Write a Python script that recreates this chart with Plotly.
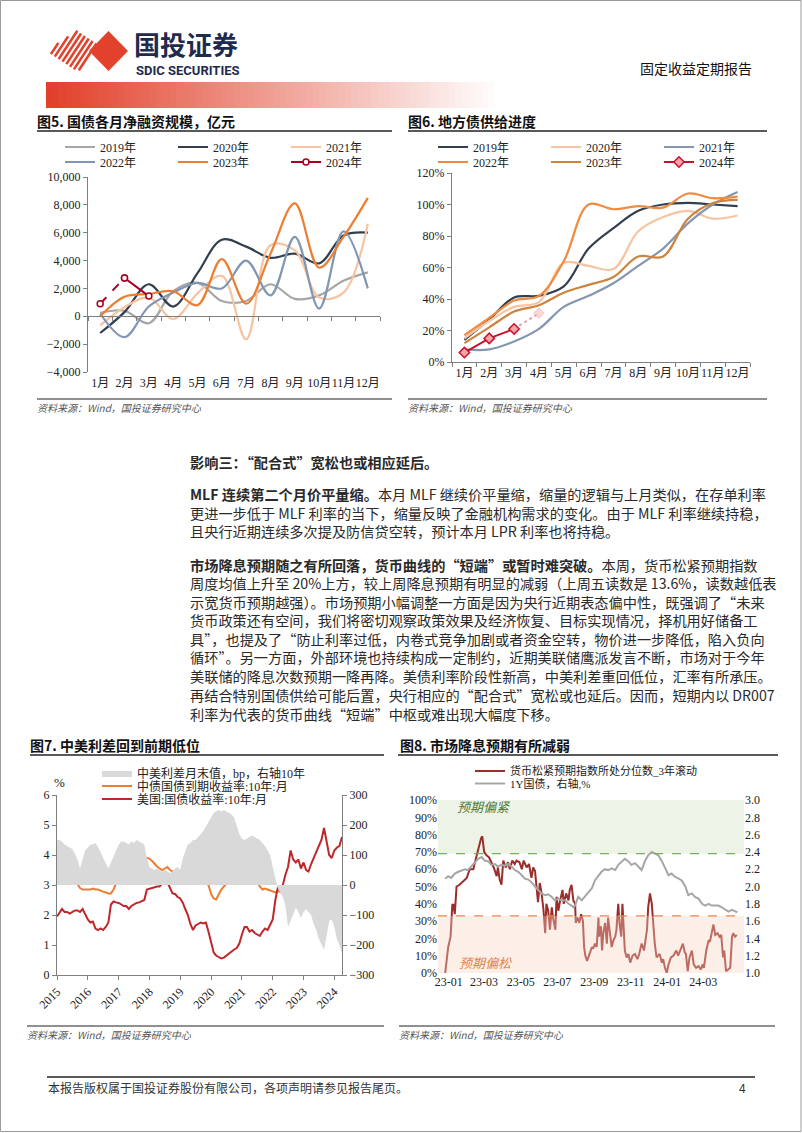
import numpy as np
import pandas as pd
import plotly.graph_objects as go

W, H = 802, 1133
SERIF = "Liberation Serif, Noto Sans CJK SC, serif"
SANS = "Noto Sans CJK SC, sans-serif"


def px(x):
    return x / W


def py(y):
    return 1 - y / H


#------------------------------------------------ data ------------------------------------------------#
months = ['1月', '2月', '3月', '4月', '5月', '6月', '7月', '8月', '9月', '10月', '11月', '12月']

# fig5: monthly net financing of treasury bonds, 100m yuan
nf_2019 = [250, 400, -500, 1800, 2400, 1100, 1100, 2300, 1250, 1500, 2550, 3150]
nf_2020 = [-1200, 300, 2300, 700, 3100, 5500, 5000, 4200, 4500, 3800, 5800, 6000]
nf_2021 = [-650, 650, 1350, -200, 1650, 2900, -1650, 5100, 4750, 1350, 1700, 6650]
nf_2022 = [200, -1500, 700, 1700, 2400, 2000, 4000, 1500, 5700, 550, 6100, 2000]
nf_2023 = [0, 1400, 1600, 1800, 800, 4100, 900, 4500, 8100, 3500, 5700, 8500]
nf_2024 = [900, 2750, 1450]

# fig6: local government bond issuance progress, %
lg_2019 = [14, 27, 41, 42, 48, 72, 85, 96, 100, 101, 100, 99]
lg_2020 = [15, 26, 35, 38, 63, 61, 59, 83, 92, 96, 91, 93]
lg_2021 = [8, 8, 13, 21, 35, 42, 50, 61, 72, 88, 100, 108]
lg_2022 = [17, 28, 39, 42, 64, 100, 97, 99, 98, 107, 104, 105]
lg_2023 = [12, 22, 32, 36, 44, 49, 54, 67, 67, 91, 101, 103]
lg_2024 = [6, 15, 21]
lg_2024_est = [21, 31]          # Mar -> Apr (estimate)

# fig7: CN-US 10Y, monthly
ir_dates = pd.date_range('2015-01-01', '2024-04-01', freq='MS')
cn10y = [3.45, 3.55, 3.60, 3.55, 3.45, 3.40, 3.30, 3.15, 3.00, 2.90, 2.85, 2.85,
         2.85, 2.85, 2.88, 2.85, 2.85, 2.80, 2.78, 2.75, 2.72, 2.72, 2.85, 3.05,
         3.25, 3.35, 3.40, 3.45, 3.55, 3.58, 3.60, 3.62, 3.65, 3.75, 3.85, 3.90,
         3.88, 3.80, 3.70, 3.62, 3.55, 3.50, 3.55, 3.60, 3.50, 3.45, 3.25, 3.18,
         3.15, 3.30, 3.40, 3.35, 3.30, 3.20, 3.10, 3.15, 3.20, 3.10, 3.05, 3.00,
         2.70, 2.55, 2.52, 2.70, 2.85, 2.95, 3.05, 3.10, 3.15, 3.20, 3.25, 3.22,
         3.22, 3.22, 3.20, 3.05, 3.08, 3.10, 3.10, 2.95, 2.85, 2.88, 2.85, 2.82,
         2.78, 2.75, 2.80, 2.78, 2.75, 2.80, 2.75, 2.68, 2.72, 2.85, 2.90, 2.92,
         2.90, 2.90, 2.88, 2.85, 2.78, 2.72, 2.68, 2.62, 2.70, 2.72, 2.65, 2.55,
         2.45, 2.40, 2.32, 2.25]
us10y = [1.95, 2.10, 2.20, 2.10, 2.10, 2.05, 2.10, 2.15, 2.15, 2.10, 2.20, 2.05,
         1.85, 1.75, 1.78, 1.55, 1.50, 1.55, 1.50, 1.60, 1.75, 2.35, 2.45, 2.42,
         2.40, 2.35, 2.30, 2.30, 2.20, 2.30, 2.35, 2.40, 2.42, 2.45, 2.50, 2.85,
         2.88, 2.90, 2.92, 2.95, 2.95, 3.05, 3.15, 3.10, 2.90, 2.72, 2.70, 2.60,
         2.55, 2.40, 2.20, 2.00, 1.70, 1.50, 1.65, 1.70, 1.75, 1.72, 1.75, 1.45,
         1.10, 0.75, 0.65, 0.60, 0.55, 0.58, 0.65, 0.70, 0.80, 0.85, 0.90, 1.05,
         1.35, 1.60, 1.60, 1.45, 1.50, 1.40, 1.35, 1.30, 1.45, 1.55, 1.50, 1.65,
         1.85, 2.50, 2.90, 2.85, 3.00, 3.35, 3.60, 4.15, 3.85, 3.75, 3.85, 3.55,
         3.75, 3.50, 3.45, 3.70, 3.90, 4.05, 4.25, 4.50, 4.90, 4.40, 4.00, 3.90,
         4.15, 4.25, 4.30, 4.60]
spread_bp = [150, 150, 145, 135, 130, 125, 120, 105, 85, 55, 90, 115,
             125, 135, 135, 140, 125, 110, 90, 70, 55, 75, 95, 120,
             135, 145, 145, 140, 135, 145, 140, 150, 145, 140, 135, 90,
             60, 55, 50, 55, 50, 45, 50, 45, 40, 45, 55, 60,
             50, 90, 115, 135, 140, 150, 150, 160, 170, 180, 195, 210,
             225, 240, 245, 250, 245, 250, 245, 240, 235, 225, 200, 170,
             155, 150, 155, 160, 165, 160, 155, 150, 140, 130, 115, 100,
             60, 25, -10, -25, -40, -70, -140, -120, -100, -75, -90, -110,
             -90, -80, -90, -100, -130, -150, -180, -200, -215, -170, -120, -115,
             -140, -180, -200, -230]

# fig8: easing-expectation index percentile & 1Y CGB (days from 2023-01-01)
exp_days = [-6, -1, 3, 4, 6, 7, 8, 10, 13, 18, 24, 30, 35, 41, 43, 47, 51, 54, 56, 59,
            63, 67, 71, 75, 80, 82, 85, 88, 91, 95, 99, 102, 106, 110, 113, 118, 122, 125, 130, 134,
            138, 141, 144, 147, 149, 152, 155, 158, 161, 163, 166, 169, 172, 174, 178, 180, 183, 186, 190, 192,
            196, 200, 202, 205, 208, 211, 212, 215, 218, 221, 224, 226, 228, 231, 235, 239, 241, 244, 247, 250,
            251, 254, 256, 258, 261, 264, 266, 268, 272, 275, 278, 280, 283, 285, 288, 290, 292, 294, 297, 300,
            303, 307, 311, 315, 318, 322, 326, 331, 333, 336, 339, 342, 344, 347, 352, 356, 358, 361, 364, 367,
            371, 375, 380, 383, 387, 391, 394, 396, 399, 402, 406, 409, 413, 417, 421, 424, 426, 430, 434, 436,
            439, 442, 445, 449, 452, 455, 458, 460, 463, 467, 470, 473, 475, 478, 481]
exp_pct = [0, 15, 21, 27, 40, 36, 40, 34, 50, 51, 53, 55, 60, 60, 63, 69, 74, 78, 79, 70,
           68, 67, 64, 61, 56, 61, 54, 51, 65, 61, 64, 60, 65, 63, 65, 64, 60, 65, 61, 63,
           55, 61, 59, 48, 41, 52, 46, 37, 23, 40, 36, 25, 38, 32, 25, 44, 36, 42, 48, 40,
           46, 42, 48, 51, 42, 40, 29, 32, 29, 34, 30, 15, 10, 7, 11, 15, 14, 17, 15, 32,
           21, 27, 13, 23, 29, 17, 32, 25, 15, 19, 21, 25, 40, 29, 21, 40, 29, 13, 9, 11,
           6, 10, 11, 8, 11, 17, 13, 25, 38, 46, 40, 25, 17, 9, 11, 6, 8, 3, 0, 5,
           9, 10, 13, 10, 13, 17, 12, 11, 1, 9, 13, 5, 3, 4, 2, 5, 3, 13, 19, 18,
           23, 28, 22, 23, 21, 22, 9, 13, 1, 2, 3, 21, 23, 21, 22]
y1_days = [-6, -1, 4, 10, 16, 21, 27, 32, 38, 43, 49, 55, 60, 66, 71, 77, 82, 88, 94, 99,
           105, 110, 116, 122, 127, 133, 138, 144, 149, 155, 161, 166, 172, 177, 183, 188, 194, 200, 205, 208,
           211, 216, 222, 227, 233, 239, 244, 250, 255, 261, 266, 272, 278, 283, 289, 294, 300, 305, 311, 317,
           322, 328, 333, 339, 344, 350, 356, 361, 367, 372, 378, 384, 389, 395, 400, 406, 411, 417, 423, 428,
           434, 439, 445, 450, 456, 462, 467, 473, 478, 482]
y1_yield = [2.09, 2.12, 2.10, 2.15, 2.17, 2.18, 2.20, 2.19, 2.24, 2.27, 2.32, 2.34, 2.30, 2.29, 2.25, 2.26, 2.23, 2.25, 2.24, 2.26,
            2.23, 2.19, 2.17, 2.13, 2.09, 2.08, 2.05, 2.00, 1.96, 1.92, 1.90, 1.91, 1.88, 1.84, 1.86, 1.84, 1.84, 1.80, 1.78, 1.76,
            1.78, 1.88, 1.84, 1.88, 1.92, 1.98, 2.07, 2.13, 2.17, 2.20, 2.19, 2.21, 2.19, 2.25, 2.29, 2.32, 2.29, 2.25, 2.27, 2.23,
            2.19, 2.30, 2.36, 2.40, 2.38, 2.36, 2.29, 2.21, 2.13, 2.15, 2.11, 2.09, 2.07, 2.00, 1.90, 1.92, 1.88, 1.86, 1.80, 1.78,
            1.80, 1.78, 1.78, 1.78, 1.76, 1.73, 1.71, 1.73, 1.71, 1.70]
tight_line, loose_line = 69, 33

base_day = pd.Timestamp('2023-01-01')
exp_dates = base_day + pd.to_timedelta(exp_days, unit='D')
y1_dates = base_day + pd.to_timedelta(y1_days, unit='D')

#------------------------------------------------ traces ------------------------------------------------#
fig = go.Figure()

# fig5
for name, vals, col, lg in [('2019年', nf_2019, '#A6A6A6', 'legend'), ('2020年', nf_2020, '#333F50', 'legend'),
                            ('2021年', nf_2021, '#F7C4A2', 'legend'), ('2022年', nf_2022, '#8096B2', 'legend2'),
                            ('2023年', nf_2023, '#ED7D31', 'legend2')]:
    fig.add_trace(go.Scatter(x=months, y=vals, name=name, mode='lines', legend=lg,
                             line=dict(color=col, width=2.2, shape='spline', smoothing=1),
                             xaxis='x', yaxis='y'))
mk24 = dict(symbol='circle', size=6, color='white', line=dict(color='#A50021', width=1.5))
fig.add_trace(go.Scatter(x=months[:2], y=nf_2024[:2], mode='lines+markers', showlegend=False,
                         line=dict(color='#A50021', width=2, dash='dash'), marker=mk24, xaxis='x', yaxis='y'))
fig.add_trace(go.Scatter(x=months[1:3], y=nf_2024[1:3], name='2024年', mode='lines+markers', legend='legend2',
                         line=dict(color='#A50021', width=2), marker=mk24, xaxis='x', yaxis='y'))

# fig6
for name, vals, col, lg in [('2019年', lg_2019, '#333F50', 'legend3'), ('2020年', lg_2020, '#F7C4A2', 'legend3'),
                            ('2021年', lg_2021, '#8497B0', 'legend3'), ('2022年', lg_2022, '#F08A3E', 'legend4'),
                            ('2023年', lg_2023, '#CC8440', 'legend4')]:
    fig.add_trace(go.Scatter(x=months, y=vals, name=name, mode='lines', legend=lg,
                             line=dict(color=col, width=2.2, shape='spline', smoothing=1),
                             xaxis='x2', yaxis='y2'))
fig.add_trace(go.Scatter(x=months[2:4], y=lg_2024_est, mode='lines+markers', showlegend=False,
                         line=dict(color='#E9A0A0', width=2, dash='dot'),
                         marker=dict(symbol='diamond', size=[0, 8], color='#F6CACA', line=dict(color='#F0B0B0', width=1)),
                         xaxis='x2', yaxis='y2'))
fig.add_trace(go.Scatter(x=months[:3], y=lg_2024, name='2024年', mode='lines+markers', legend='legend4',
                         line=dict(color='#C8102E', width=2),
                         marker=dict(symbol='diamond', size=8, color='#F3A6A6', line=dict(color='#C8102E', width=1.5)),
                         xaxis='x2', yaxis='y2'))

# fig7
fig.add_trace(go.Scatter(x=ir_dates, y=spread_bp, name='中美利差月末值，bp，右轴10年', mode='lines', fill='tozeroy',
                         fillcolor='#D9D9D9', line=dict(width=0, color='#D9D9D9'), legend='legend5',
                         xaxis='x3', yaxis='y4'))
fig.add_trace(go.Scatter(x=ir_dates, y=cn10y, name='中债国债到期收益率:10年:月', mode='lines', legend='legend6',
                         line=dict(color='#ED7D31', width=2), xaxis='x3', yaxis='y3'))
fig.add_trace(go.Scatter(x=ir_dates, y=us10y, name='美国:国债收益率:10年:月', mode='lines', legend='legend7',
                         line=dict(color='#C0272D', width=2), xaxis='x3', yaxis='y3'))

# fig8
fig.add_trace(go.Scatter(x=y1_dates, y=y1_yield, name='1Y国债，右轴,%', mode='lines', legend='legend9',
                         line=dict(color='#A6A6A6', width=2), xaxis='x4', yaxis='y6'))
fig.add_trace(go.Scatter(x=exp_dates, y=exp_pct, name='货币松紧预期指数所处分位数_3年滚动', mode='lines', legend='legend8',
                         line=dict(color='#9B2D2A', width=2), xaxis='x4', yaxis='y5'))

#------------------------------------------------ layout ------------------------------------------------#
AX = '#7F7F7F'
tf = dict(family=SERIF, size=12, color='#222')


def leg(x, y, ew=68, size=12):
    d = dict(x=px(x), y=py(y), xanchor='left', yanchor='middle', orientation='h',
             bgcolor='rgba(0,0,0,0)', borderwidth=0, font=dict(family=SERIF, size=size, color='#222'),
             itemwidth=30, tracegroupgap=0, itemclick=False, itemdoubleclick=False)
    if ew:
        d.update(entrywidth=ew, entrywidthmode='pixels')
    return d


fig.update_layout(
    width=W, height=H, margin=dict(l=0, r=0, t=0, b=0, pad=0, autoexpand=False),
    paper_bgcolor='white', plot_bgcolor='rgba(0,0,0,0)',
    font=dict(family=SERIF, size=12, color='#222'),
    hovermode=False,
    # fig5
    xaxis=dict(domain=[px(88), px(380)], anchor='free', position=py(316), type='category',
               range=[-0.5, 11.5], tickson='boundaries', ticks='outside', ticklen=4, tickcolor=AX,
               showline=True, linecolor=AX, showgrid=False, tickfont=tf, tickangle=0,
               ticklabelstandoff=56, automargin=False),
    yaxis=dict(domain=[py(372), py(177)], anchor='x', range=[-4000, 10000], dtick=2000, tickformat=',',
               ticks='outside', ticklen=4, tickcolor=AX, showline=True, linecolor=AX,
               showgrid=False, zeroline=False, tickfont=tf, automargin=False),
    # fig6
    xaxis2=dict(domain=[px(452), px(750)], anchor='y2', type='category', range=[-0.5, 11.5],
                tickson='boundaries', ticks='outside', ticklen=4, tickcolor=AX, tickangle=0,
                showline=True, linecolor=AX, showgrid=False, tickfont=tf, automargin=False),
    yaxis2=dict(domain=[py(362), py(173)], anchor='x2', range=[0, 120], dtick=20, ticksuffix='%',
                ticks='outside', ticklen=4, tickcolor=AX, showline=True, linecolor=AX,
                showgrid=False, zeroline=False, tickfont=tf, automargin=False),
    # fig7
    xaxis3=dict(domain=[px(57), px(342)], anchor='y3', type='date', range=['2015-01-01', '2024-04-01'],
                tickvals=[f'{yr}-01-01' for yr in range(2015, 2025)], tickformat='%Y', tickangle=-45,
                ticks='outside', ticklen=4, tickcolor=AX, showline=True, linecolor=AX,
                showgrid=False, tickfont=tf, automargin=False),
    yaxis3=dict(domain=[py(975), py(795)], anchor='x3', range=[0, 6], dtick=1,
                ticks='outside', ticklen=4, tickcolor=AX, showline=True, linecolor=AX,
                showgrid=False, zeroline=False, tickfont=tf, automargin=False),
    yaxis4=dict(overlaying='y3', side='right', anchor='x3', range=[-300, 300], dtick=100,
                ticks='outside', ticklen=4, tickcolor=AX, showline=True, linecolor=AX,
                showgrid=False, zeroline=False, tickfont=tf, automargin=False),
    # fig8
    xaxis4=dict(domain=[px(438), px(744)], anchor='y5', type='date', range=['2022-12-14', '2024-05-08'],
                tickvals=['2023-01-01', '2023-03-01', '2023-05-01', '2023-07-01', '2023-09-01',
                          '2023-11-01', '2024-01-01', '2024-03-01'],
                tickformat='%y-%m', ticks='', showline=False, showgrid=False, tickfont=tf, automargin=False),
    yaxis5=dict(domain=[py(973), py(800)], anchor='x4', range=[0, 100], dtick=10, ticksuffix='%',
                ticks='', showline=False, showgrid=False, zeroline=False, tickfont=tf, automargin=False),
    yaxis6=dict(overlaying='y5', side='right', anchor='x4', range=[1.0, 3.0], dtick=0.2, tickformat='.1f',
                ticks='', showline=False, showgrid=False, zeroline=False, tickfont=tf, automargin=False),
    legend=leg(60, 147), legend2=leg(60, 162), legend3=leg(433, 147), legend4=leg(433, 162),
    legend5=leg(97, 773, 0), legend6=leg(97, 786, 0), legend7=leg(97, 799, 0),
    legend8=leg(470, 771, 0, 11), legend9=leg(470, 783.5, 0, 11),
)

shapes = []
# page border
shapes.append(dict(type='rect', xref='paper', yref='paper', x0=px(0.5), x1=px(801), y0=py(1131.5), y1=py(0.5),
                   line=dict(color='#9A9A9A', width=1), layer='below'))
# header gradient bar
n_steps = 70
for i in range(n_steps):
    t = i / (n_steps - 1)
    r = int(226 + (255 - 226) * t)
    g = int(64 + (255 - 64) * t)
    b = int(42 + (255 - 42) * t)
    x0 = 46 + i * (455 / n_steps)
    shapes.append(dict(type='rect', xref='paper', yref='paper', x0=px(x0), x1=px(x0 + 455 / n_steps + 0.6),
                       y0=py(108), y1=py(82), fillcolor=f'rgb({r},{g},{b})', line=dict(width=0), layer='below'))
# logo stripes, clipped to a diamond
LOGO_RED = '#E2412B'
d = np.array([0.55, -0.835])
for bx in [53, 58.5, 64, 69.5, 75, 80.5, 86, 91.5]:
    ts = np.arange(-40, 40, 0.25)
    pts = np.array([bx, 51.0]) + ts[:, None] * d
    inside = np.abs(pts[:, 0] - 77) / 31 + np.abs(pts[:, 1] - 51) / 20.5 <= 1
    if inside.sum() < 2:
        continue
    p0, p1 = pts[inside][0], pts[inside][-1]
    shapes.append(dict(type='line', xref='paper', yref='paper', x0=px(p0[0]), y0=py(p0[1]),
                       x1=px(p1[0]), y1=py(p1[1]), line=dict(color=LOGO_RED, width=2.6)))
dia = [(89, 51), (108.5, 31), (128, 51), (108.5, 71)]
path = 'M ' + ' L '.join(f'{px(x):.5f},{py(y):.5f}' for x, y in dia) + ' Z'
shapes.append(dict(type='path', xref='paper', yref='paper', path=path, fillcolor=LOGO_RED, line=dict(width=0)))

# title underlines / source lines / footer line
for x0, x1, y, w in [(37, 392, 131, 1.5), (408, 767, 131, 1.5), (37, 392, 399, 1.2), (408, 767, 399, 1.2),
                     (30, 384, 755, 1.5), (398, 778, 755, 1.5), (27, 384, 1026, 1.2), (399, 775, 1026, 1.2),
                     (47, 755, 1077, 1.5)]:
    shapes.append(dict(type='line', xref='paper', yref='paper', x0=px(x0), x1=px(x1), y0=py(y), y1=py(y),
                       line=dict(color='#222', width=w)))

# fig8 bands
shapes.append(dict(type='rect', xref='x4 domain', yref='y5', x0=0, x1=1, y0=tight_line, y1=100,
                   fillcolor='#EEF3E8', line=dict(width=0), layer='below'))
shapes.append(dict(type='rect', xref='x4 domain', yref='y5', x0=0, x1=1, y0=0, y1=loose_line,
                   fillcolor='rgb(244,214,194)', opacity=0.38, line=dict(width=0), layer='above'))
shapes.append(dict(type='line', xref='x4 domain', yref='y5', x0=0, x1=1, y0=tight_line, y1=tight_line,
                   line=dict(color='#78B05A', width=1.2, dash='dash')))
shapes.append(dict(type='line', xref='x4 domain', yref='y5', x0=0, x1=1, y0=loose_line, y1=loose_line,
                   line=dict(color='#E8884F', width=1.2, dash='dash')))
fig.update_layout(shapes=shapes)

#------------------------------------------------ text ------------------------------------------------#
ann = []


def note(text, x, y, size=12, color='#222', family=SANS, xanchor='left'):
    ann.append(dict(text=text, x=px(x), y=py(y), xref='paper', yref='paper', xanchor=xanchor, yanchor='middle',
                    showarrow=False, font=dict(family=family, size=size, color=color)))


note('<b>国投证券</b>', 132, 44, size=26, color='#1F2B4E')
note('<b>SDIC SECURITIES</b>', 134, 70, size=13, color='#1F2B4E', family='Liberation Sans Narrow, Roboto, sans-serif')
note('固定收益定期报告', 638, 68, size=14, color='#111')

note('<b>图5. 国债各月净融资规模，亿元</b>', 35, 121, size=14, color='#111')
note('<b>图6. 地方债供给进度</b>', 406, 121, size=14, color='#111')
note('<b>图7. 中美利差回到前期低位</b>', 28, 745, size=14, color='#111')
note('<b>图8. 市场降息预期有所减弱</b>', 398, 745, size=14, color='#111')

src = '<i>资料来源：Wind，国投证券研究中心</i>'
note(src, 35, 407, size=10, color='#555')
note(src, 406, 407, size=10, color='#555')
note(src, 25, 1034, size=10, color='#555')
note(src, 397, 1034, size=10, color='#555')

note('%', 52, 782, size=13, family=SERIF)
note('<i>预期偏紧</i>', 455, 806, size=13, color='#4E7B35')
note('<i>预期偏松</i>', 457, 962, size=13, color='#E2844F')

body = [
    ('<b>影响三：“配合式”宽松也或相应延后。</b>', 462),
    ('<b>MLF 连续第二个月价平量缩。</b>本月 MLF 继续价平量缩，缩量的逻辑与上月类似，在存单利率', 494),
    ('更进一步低于 MLF 利率的当下，缩量反映了金融机构需求的变化。由于 MLF 利率继续持稳，', 512.5),
    ('且央行近期连续多次提及防信贷空转，预计本月 LPR 利率也将持稳。', 531),
    ('<b>市场降息预期随之有所回落，货币曲线的“短端”或暂时难突破。</b>本周，货币松紧预期指数', 564.5),
    ('周度均值上升至 20%上方，较上周降息预期有明显的减弱（上周五读数是 13.6%，读数越低表', 583),
    ('示宽货币预期越强）。市场预期小幅调整一方面是因为央行近期表态偏中性，既强调了“未来', 601.5),
    ('货币政策还有空间，我们将密切观察政策效果及经济恢复、目标实现情况，择机用好储备工', 620),
    ('具”，也提及了“防止利率过低，内卷式竞争加剧或者资金空转，物价进一步降低，陷入负向', 638.5),
    ('循环”。另一方面，外部环境也持续构成一定制约，近期美联储鹰派发言不断，市场对于今年', 657),
    ('美联储的降息次数预期一降再降。美债利率阶段性新高，中美利差重回低位，汇率有所承压。', 676),
    ('再结合特别国债供给可能后置，央行相应的“配合式”宽松或也延后。因而，短期内以 DR007', 695),
    ('利率为代表的货币曲线“短端”中枢或难出现大幅度下移。', 714),
]
for txt, y in body:
    note(txt, 188, y, size=14.2, color='#2A2A2A')

note('本报告版权属于国投证券股份有限公司，各项声明请参见报告尾页。', 46, 1087, size=12, color='#333')
note('4', 742, 1087, size=12, color='#333', xanchor='center')

fig.update_layout(annotations=ann)

# the page itself should have no body margin so the figure fills the window
fig.write_html("out.html", config={'displayModeBar': False},
               post_script="document.body.style.margin='0px';")
